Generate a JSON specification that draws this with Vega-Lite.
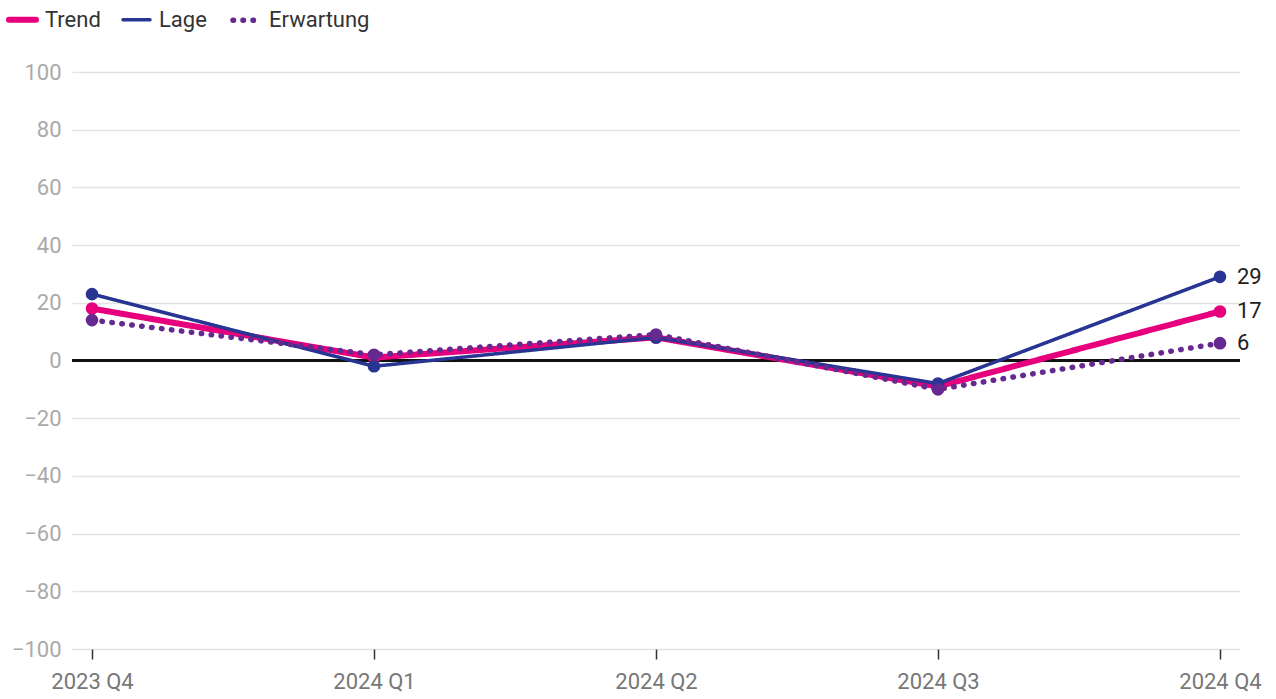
{
  "$schema": "https://vega.github.io/schema/vega-lite/v6.json",
  "width": 1168,
  "height": 577,
  "autosize": {"type": "none"},
  "padding": {"left": 72, "top": 72, "right": 36, "bottom": 50},
  "background": "white",
  "config": {
    "font": "Roboto",
    "view": {"stroke": null},
    "line": {"strokeCap": "round"}
  },
  "data": {
    "values": [
      {"quarter": "2023 Q4", "series": "Trend", "value": 18},
      {"quarter": "2024 Q1", "series": "Trend", "value": 1},
      {"quarter": "2024 Q2", "series": "Trend", "value": 8},
      {"quarter": "2024 Q3", "series": "Trend", "value": -9},
      {"quarter": "2024 Q4", "series": "Trend", "value": 17},
      {"quarter": "2023 Q4", "series": "Lage", "value": 23},
      {"quarter": "2024 Q1", "series": "Lage", "value": -2},
      {"quarter": "2024 Q2", "series": "Lage", "value": 8},
      {"quarter": "2024 Q3", "series": "Lage", "value": -8},
      {"quarter": "2024 Q4", "series": "Lage", "value": 29},
      {"quarter": "2023 Q4", "series": "Erwartung", "value": 14},
      {"quarter": "2024 Q1", "series": "Erwartung", "value": 2},
      {"quarter": "2024 Q2", "series": "Erwartung", "value": 9},
      {"quarter": "2024 Q3", "series": "Erwartung", "value": -10},
      {"quarter": "2024 Q4", "series": "Erwartung", "value": 6}
    ]
  },
  "encoding": {
    "x": {
      "field": "quarter",
      "type": "ordinal",
      "scale": {"type": "point", "padding": 0.071},
      "axis": {
        "title": null,
        "labelAngle": 0,
        "labelFontSize": 22,
        "labelColor": "#777777",
        "labelPadding": 12,
        "tickColor": "#333333",
        "tickSize": 10,
        "tickWidth": 1.5,
        "domain": false,
        "grid": false
      }
    },
    "y": {
      "field": "value",
      "type": "quantitative",
      "scale": {"domain": [-100, 100], "nice": false},
      "axis": {
        "title": null,
        "values": [-100, -80, -60, -40, -20, 0, 20, 40, 60, 80, 100],
        "labelFontSize": 22,
        "labelColor": "#aaaaaa",
        "labelPadding": 11,
        "ticks": false,
        "domain": false,
        "gridColor": "#e3e3e3",
        "gridWidth": 1.5
      }
    }
  },
  "layer": [
    {
      "mark": {"type": "rule", "color": "#111111", "strokeWidth": 1.5},
      "encoding": {
        "x": null,
        "y": {"datum": 0}
      }
    },
    {
      "mark": {"type": "line", "strokeCap": "round", "strokeJoin": "round"},
      "encoding": {
        "color": {
          "field": "series",
          "type": "nominal",
          "scale": {"domain": ["Trend", "Lage", "Erwartung"], "range": ["#e6007e", "#283593", "#66298f"]},
          "legend": {
            "title": null,
            "orient": "none",
            "legendX": -66,
            "legendY": -69,
            "direction": "horizontal",
            "columns": 3,
            "symbolType": "stroke",
            "symbolSize": 729,
            "labelFontSize": 22,
            "labelColor": "#333333",
            "labelOffset": 6,
            "columnPadding": 15,
            "encode": {"symbols": {"update": {"strokeCap": {"value": "round"}}}}
          }
        },
        "strokeWidth": {
          "field": "series",
          "type": "nominal",
          "scale": {"type": "ordinal", "domain": ["Trend", "Lage", "Erwartung"], "range": [6, 3.5, 5.5]},
          "legend": {
            "title": null,
            "orient": "none",
            "legendX": -66,
            "legendY": -69,
            "direction": "horizontal",
            "columns": 3,
            "symbolType": "stroke",
            "symbolSize": 729,
            "labelFontSize": 22,
            "labelColor": "#333333",
            "labelOffset": 6,
            "columnPadding": 15,
            "encode": {"symbols": {"update": {"strokeCap": {"value": "round"}}}}
          }
        },
        "strokeDash": {
          "field": "series",
          "type": "nominal",
          "scale": {"domain": ["Trend", "Lage", "Erwartung"], "range": [[1, 0], [1, 0], [0.5, 9.5]]},
          "legend": {
            "title": null,
            "orient": "none",
            "legendX": -66,
            "legendY": -69,
            "direction": "horizontal",
            "columns": 3,
            "symbolType": "stroke",
            "symbolSize": 729,
            "labelFontSize": 22,
            "labelColor": "#333333",
            "labelOffset": 6,
            "columnPadding": 15,
            "encode": {"symbols": {"update": {"strokeCap": {"value": "round"}}}}
          }
        }
      }
    },
    {
      "mark": {"type": "circle", "size": 160, "opacity": 1},
      "encoding": {
        "color": {
          "field": "series",
          "type": "nominal",
          "scale": {"domain": ["Trend", "Lage", "Erwartung"], "range": ["#e6007e", "#283593", "#66298f"]},
          "legend": null
        }
      }
    },
    {
      "transform": [{"filter": "datum.quarter === '2024 Q4'"}],
      "mark": {"type": "text", "align": "left", "baseline": "middle", "dx": 17, "fontSize": 22, "color": "#222222"},
      "encoding": {
        "text": {"field": "value", "type": "quantitative"}
      }
    }
  ]
}
